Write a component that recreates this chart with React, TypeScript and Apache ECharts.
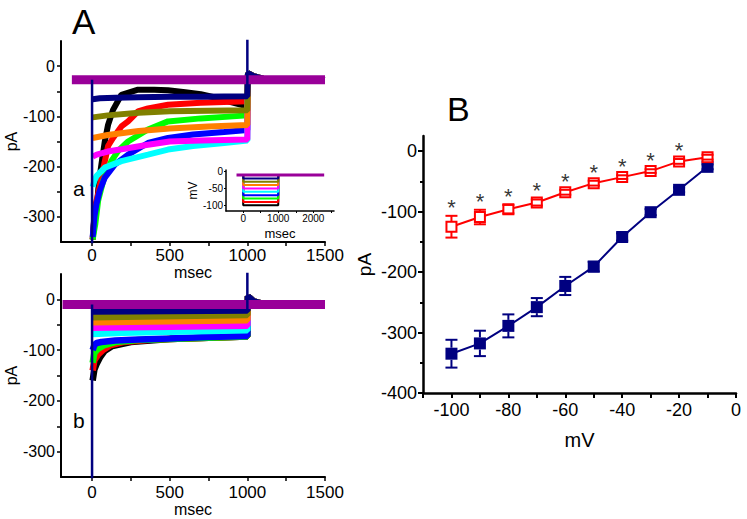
import React, { useEffect, useRef } from "react";
import * as echarts from "echarts";

const FONT = "'Liberation Sans', Arial, Helvetica, sans-serif";

// ---------- Panel A-a traces: [time ms, current pA] ----------
const aaBlack = [[4,-345],[10,-320],[20,-290],[34,-268],[43,-235],[60,-196],[82,-150],[103,-117],[135,-87],[189,-57],[296,-47],[400,-47],[489,-48],[600,-52],[700,-56],[800,-63],[900,-72],[1000,-80]];
const aaRed = [[4,-345],[12,-310],[25,-272],[39,-255],[60,-222],[103,-159],[135,-143],[189,-120],[232,-110],[296,-90],[360,-84],[489,-77],[700,-73],[1000,-70]];
const aaGreen = [[4,-345],[12,-330],[21,-314],[39,-268],[71,-229],[124,-189],[167,-169],[232,-150],[360,-126],[489,-110],[700,-104],[1000,-98]];
const aaBlue = [[4,-340],[15,-300],[28,-275],[49,-248],[82,-222],[146,-196],[232,-176],[360,-153],[489,-143],[650,-136],[850,-131],[1000,-127]];
const aaCyan = [[4,-240],[15,-228],[28,-219],[82,-202],[189,-189],[360,-176],[489,-166],[650,-159],[850,-153],[1000,-148]];
const aaMagenta = [[4,-180],[30,-176],[100,-170],[200,-165],[350,-157],[500,-150],[700,-148],[1000,-146]];
const aaOrange = [[4,-143],[100,-137],[300,-129],[500,-124],[750,-120],[1000,-117]];
const aaOlive = [[4,-102],[100,-98],[300,-93],[500,-90],[1000,-88]];
const aaNavy = [[4,-66],[50,-64],[150,-63],[300,-62],[500,-61],[700,-61],[1000,-60]];
const aaTail = [[1004,-14],[1040,-20],[1100,-25],[1500,-27]];
const aaPurple = [[-130,-27],[1500,-27]];
const aaSpikeOn = [[0,-27],[0,-400]];
const aaSpikeOff = [[1000,-60],[1000,120]];

// ---------- Panel A-b traces ----------
const abBlack = [[4,-160],[15,-138],[30,-127],[50,-115],[80,-102],[130,-92],[250,-84],[500,-78],[1000,-73]];
const abRed = [[4,-140],[15,-120],[40,-108],[70,-100],[120,-90],[200,-84],[400,-79],[1000,-73]];
const abGreen = [[4,-125],[15,-105],[40,-97],[80,-90],[150,-84],[300,-80],[1000,-73]];
const abBlue = [[4,-100],[15,-90],[30,-86],[60,-84],[150,-81],[300,-79],[500,-77],[750,-74],[1000,-72]];
const abCyan = [[4,-68],[200,-66],[500,-64],[1000,-61]];
const abMagenta = [[4,-56],[1000,-52]];
const abOrange = [[4,-45],[1000,-41]];
const abOlive = [[4,-35],[1000,-31]];
const abNavy = [[4,-24],[1000,-22]];
const abTail = [[1004,6],[1040,-4],[1100,-9],[1500,-10]];
const abPurple = [[-190,-10],[1500,-10]];
const abSpikeOn = [[0,-10],[0,-400]];
const abSpikeOff = [[1000,-22],[1000,120]];

// ---------- Inset: voltage protocol ----------
const insetLevels = [-100,-90,-80,-70,-60,-50,-40,-30,-20];
const insetHold = -10;
const insetOn = 0;
const insetOff = 1000;
const insetHoldSpan = [-190, 2310];

// ---------- Panel B: I-V ----------
const bVolt = [-100,-90,-80,-70,-60,-50,-40,-30,-20,-10];
const bCtrl = [-335,-318,-289,-258,-223,-191,-142,-101,-64,-26];
const bCtrlErr = [23,21,19,15,15,8,6,5,4,4];
const bTreat = [-125,-109,-96,-85,-68,-53,-43,-33,-17,-10];
const bTreatErr = [18,12,7,5,4,4,3,3,4,4];
const bSig = [true,true,true,true,true,true,true,true,true,false];

// ---------- Tick values ----------
const aTimeTicks = [0,250,500,750,1000,1250,1500];
const aTimeLabels = [0,500,1000,1500];
const aPaTicks = [-300,-250,-200,-150,-100,-50,0];
const aPaLabels = [-300,-200,-100,0];
const insetTimeTicks = [0,500,1000,1500,2000,2500];
const insetTimeLabels = [0,1000,2000];
const insetMvTicks = [-100,-50,0];
const bMvTicks = [-110,-100,-90,-80,-70,-60,-50,-40,-30,-20,-10,0];
const bMvLabels = [-100,-80,-60,-40,-20,0];
const bPaMajor = [-400,-300,-200,-100,0];
const bPaMinor = [-350,-250,-150,-50];

// trace colours: black, red, green, blue, cyan, magenta, orange, olive, navy
const traceColors = ["#000000","#ff0000","#00ff00","#0000ff","#00ffff","#ff00ff","#ff8000","#808000","#000080"];
const purple = "#990099";
const navy = "#000080";
const plain = (v: number) => String(v);

function lineSeries(data: number[][], color: string, width: number, xi: number, yi: number, z = 2) {
  return {
    type: "line", xAxisIndex: xi, yAxisIndex: yi, data,
    showSymbol: false, symbol: "none", silent: true, clip: true, z,
    lineStyle: { color, width, join: "bevel", cap: "butt" },
  };
}

function errSeries(vals: number[], errs: number[], color: string, half: number) {
  return {
    type: "custom", xAxisIndex: 3, yAxisIndex: 5, silent: true, z: 5,
    data: bVolt.map((v, i) => [v, vals[i] - errs[i], vals[i] + errs[i], vals[i]]),
    renderItem: (params: any, api: any) => {
      const x = api.value(0);
      const lo = api.coord([x, api.value(1)]);
      const hi = api.coord([x, api.value(2)]);
      const c = api.coord([x, api.value(3)]);
      const w = 6;
      const st = { stroke: color, lineWidth: 2 };
      const children: any[] = [
        { type: "line", shape: { x1: lo[0] - w, y1: lo[1], x2: lo[0] + w, y2: lo[1] }, style: st },
        { type: "line", shape: { x1: hi[0] - w, y1: hi[1], x2: hi[0] + w, y2: hi[1] }, style: st },
      ];
      if (hi[1] < c[1] - half) children.push({ type: "line", shape: { x1: c[0], y1: hi[1], x2: c[0], y2: c[1] - half }, style: st });
      if (lo[1] > c[1] + half) children.push({ type: "line", shape: { x1: c[0], y1: c[1] + half, x2: c[0], y2: lo[1] }, style: st });
      return { type: "group", children };
    },
  };
}

const axisLineA = { show: true, onZero: false, lineStyle: { color: "#000", width: 2 } };
const axisLineB = { show: true, onZero: false, lineStyle: { color: "#000", width: 2.5 } };

function aX(gridIndex: number, margin: number, nameGap: number) {
  return {
    type: "value", gridIndex, min: -200, max: 1500,
    axisLine: axisLineA,
    axisTick: { show: true, customValues: aTimeTicks, length: 4, lineStyle: { color: "#000", width: 1.5 } },
    axisLabel: { show: true, customValues: aTimeLabels, formatter: plain, fontSize: 17, color: "#000", margin, fontFamily: FONT },
    splitLine: { show: false },
    name: "msec", nameLocation: "middle", nameGap,
    nameTextStyle: { fontSize: 16, color: "#000", fontFamily: FONT },
  };
}
function aY(gridIndex: number) {
  return {
    type: "value", gridIndex, min: -350, max: 50,
    axisLine: axisLineA,
    axisTick: { show: true, customValues: aPaTicks, length: 4, lineStyle: { color: "#000", width: 1.5 } },
    axisLabel: { show: true, customValues: aPaLabels, formatter: plain, fontSize: 16, color: "#000", margin: 6, fontFamily: FONT },
    splitLine: { show: false },
    name: "pA", nameLocation: "middle", nameGap: 40, nameRotate: 90,
    nameTextStyle: { fontSize: 16, color: "#000", fontFamily: FONT },
  };
}

function buildTraces(list: number[][][], tail: number[][], xi: number, yi: number, width: number) {
  return list.map((d, i) => lineSeries([...d, ...tail], traceColors[i], width, xi, yi));
}

export default function App() {
  const ref = useRef<HTMLDivElement>(null);
  useEffect(() => {
    if (!ref.current) return;
    const chart = echarts.init(ref.current, undefined, { renderer: "svg" });

    const aaList = [aaBlack, aaRed, aaGreen, aaBlue, aaCyan, aaMagenta, aaOrange, aaOlive, aaNavy];
    const abList = [abBlack, abRed, abGreen, abBlue, abCyan, abMagenta, abOrange, abOlive, abNavy];

    const insetSeries = insetLevels.map((lvl, i) =>
      lineSeries([[insetOn, insetHold], [insetOn, lvl], [insetOff, lvl], [insetOff, insetHold]], traceColors[i], 2, 2, 4, 3)
    );

    const series: any[] = [
      ...buildTraces(aaList, aaTail, 0, 0, 6),
      lineSeries(aaPurple, purple, 9, 0, 0),
      lineSeries(aaSpikeOn, navy, 2.5, 0, 0),
      lineSeries(aaSpikeOff, navy, 2.5, 0, 0),
      ...buildTraces(abList, abTail, 1, 2, 6.5),
      lineSeries(abPurple, purple, 9, 1, 2),
      lineSeries(abSpikeOn, navy, 2.5, 1, 2),
      lineSeries(abSpikeOff, navy, 2.5, 1, 2),
      ...insetSeries,
      lineSeries([[insetHoldSpan[0], insetHold], [insetHoldSpan[1], insetHold]], purple, 3, 2, 4, 4),
      {
        type: "line", xAxisIndex: 3, yAxisIndex: 5, z: 4, silent: true,
        data: bVolt.map((v, i) => [v, bCtrl[i]]),
        symbol: "rect", symbolSize: 12, showSymbol: true,
        itemStyle: { color: navy },
        lineStyle: { color: navy, width: 2 },
      },
      {
        type: "line", xAxisIndex: 3, yAxisIndex: 5, z: 4, silent: true,
        data: bVolt.map((v, i) => [v, bTreat[i]]),
        symbol: "rect", symbolSize: 10, showSymbol: true,
        itemStyle: { color: "#ffffff", borderColor: "#ff0000", borderWidth: 2 },
        lineStyle: { color: "#ff0000", width: 2 },
      },
      errSeries(bCtrl, bCtrlErr, navy, 6),
      errSeries(bTreat, bTreatErr, "#ff0000", 5),
      {
        type: "scatter", xAxisIndex: 3, yAxisIndex: 5, z: 6, silent: true,
        data: bVolt.map((v, i) => (bSig[i] ? [v, bTreat[i] + bTreatErr[i]] : null)).filter(Boolean),
        symbol: "circle", symbolSize: 1, itemStyle: { color: "rgba(0,0,0,0)" },
        label: { show: true, formatter: "*", position: "top", distance: -3, fontSize: 22, color: "#000", fontFamily: FONT },
      },
    ];

    const option: any = {
      animation: false,
      textStyle: { fontFamily: FONT },
      grid: [
        { left: 61, top: 41, width: 264, height: 201, outerBoundsMode: "none", containLabel: false },
        { left: 61, top: 274, width: 264, height: 203, outerBoundsMode: "none", containLabel: false },
        { left: 226, top: 170, width: 108, height: 41, outerBoundsMode: "none", containLabel: false },
        { left: 423, top: 136, width: 313, height: 257, outerBoundsMode: "none", containLabel: false },
      ],
      xAxis: [
        aX(0, 5, 16),
        aX(1, 7, 15),
        {
          type: "value", gridIndex: 2, min: -490, max: 2590,
          axisLine: { show: true, onZero: false, lineStyle: { color: "#000", width: 1.5 } },
          axisTick: { show: true, customValues: insetTimeTicks, length: 2, lineStyle: { color: "#000", width: 1 } },
          axisLabel: { show: true, customValues: insetTimeLabels, formatter: plain, fontSize: 10, color: "#000", margin: 2, fontFamily: FONT },
          splitLine: { show: false },
          name: "msec", nameLocation: "middle", nameGap: 16,
          nameTextStyle: { fontSize: 13, color: "#000", fontFamily: FONT },
        },
        {
          type: "value", gridIndex: 3, min: -110, max: 0,
          axisLine: axisLineB,
          axisTick: { show: true, customValues: bMvTicks, length: 5, lineStyle: { color: "#000", width: 2 } },
          axisLabel: { show: true, customValues: bMvLabels, formatter: plain, fontSize: 18, color: "#000", margin: 8, fontFamily: FONT },
          splitLine: { show: false },
          name: "mV", nameLocation: "middle", nameGap: 37,
          nameTextStyle: { fontSize: 20, color: "#000", fontFamily: FONT },
        },
      ],
      yAxis: [
        aY(0),
        { type: "value", gridIndex: 0, min: -350, max: 50, show: false },
        aY(1),
        { type: "value", gridIndex: 1, min: -350, max: 50, show: false },
        {
          type: "value", gridIndex: 2, min: -117, max: 5,
          axisLine: { show: true, onZero: false, lineStyle: { color: "#000", width: 1.5 } },
          axisTick: { show: true, customValues: insetMvTicks, length: 2, lineStyle: { color: "#000", width: 1 } },
          axisLabel: { show: true, customValues: insetMvTicks, formatter: plain, fontSize: 10, color: "#000", margin: 3, fontFamily: FONT },
          splitLine: { show: false },
          name: "mV", nameLocation: "middle", nameGap: 22, nameRotate: 90,
          nameTextStyle: { fontSize: 12, color: "#000", fontFamily: FONT },
        },
        {
          type: "value", gridIndex: 3, min: -400, max: 25, position: "left",
          axisLine: axisLineB,
          axisTick: { show: true, customValues: bPaMajor, length: 5, lineStyle: { color: "#000", width: 2 } },
          axisLabel: { show: true, customValues: bPaMajor, formatter: plain, fontSize: 18, color: "#000", margin: 6, fontFamily: FONT },
          splitLine: { show: false },
          name: "pA", nameLocation: "middle", nameGap: 49, nameRotate: 90,
          nameTextStyle: { fontSize: 19, color: "#000", fontFamily: FONT },
        },
        {
          type: "value", gridIndex: 3, min: -400, max: 25, position: "left", offset: 0,
          axisLine: { show: false, onZero: false },
          axisTick: { show: true, customValues: bPaMinor, length: 3, lineStyle: { color: "#000", width: 2 } },
          axisLabel: { show: false },
          splitLine: { show: false },
        },
      ],
      graphic: [
        { type: "text", left: 72, top: 4, style: { text: "A", fontSize: 35, fill: "#000", fontFamily: FONT } },
        { type: "text", left: 447, top: 92, style: { text: "B", fontSize: 34, fill: "#000", fontFamily: FONT } },
        { type: "text", left: 73, top: 178, style: { text: "a", fontSize: 21, fill: "#000", fontFamily: FONT } },
        { type: "text", left: 73, top: 410, style: { text: "b", fontSize: 21, fill: "#000", fontFamily: FONT } },
      ],
      series,
    };
    chart.setOption(option);
    return () => chart.dispose();
  }, []);
  return <div ref={ref} style={{ position: "fixed", left: 0, top: 0, width: 747, height: 519, background: "#fff" }} />;
}
